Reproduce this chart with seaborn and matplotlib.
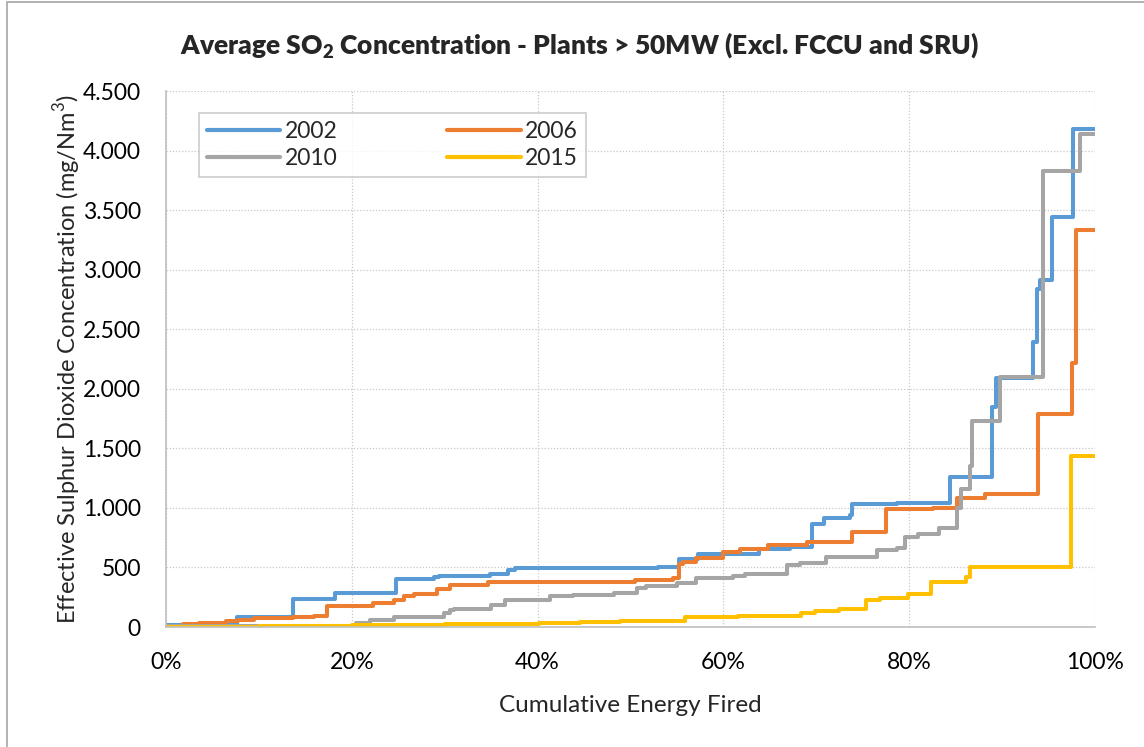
import numpy as np
import pandas as pd
import matplotlib
matplotlib.use("Agg")
import matplotlib.pyplot as plt
import matplotlib.ticker as mticker
from matplotlib.patches import Rectangle
import seaborn as sns

sns.set_style("white")
plt.rcParams["font.family"] = ["Lato", "DejaVu Sans"]
plt.rcParams["mathtext.fontset"] = "custom"
plt.rcParams["mathtext.rm"] = "Lato"
plt.rcParams["mathtext.bf"] = "Lato:heavy"

# Step curves: cumulative energy fired (%) vs SO2 (mg/Nm3)
x_2002 = [0, 7.6, 13.7, 18.2, 24.8, 28.8, 29.4, 34.9, 36.8, 37.6, 53.0, 55.2, 57.3,
          63.8, 67.2, 69.5, 70.8, 73.6, 73.9, 78.7, 84.4, 88.9, 89.4, 93.3, 93.8,
          94.1, 95.4, 97.6, 100]
y_2002 = [15, 86, 237, 286, 400, 420, 429, 443, 480, 494, 500, 571, 614,
          652, 669, 865, 913, 941, 1031, 1039, 1258, 1846, 2093, 2390, 2837,
          2916, 3446, 4181, 4181]

x_2006 = [0, 1.8, 3.6, 6.5, 7.7, 9.5, 13.7, 15.9, 17.3, 22.3, 24.5, 25.6, 26.7,
          29.2, 30.6, 34.7, 50.5, 54.6, 55.2, 55.7, 57.1, 60.0, 61.8, 64.8, 69.0,
          73.8, 77.5, 82.6, 85.1, 88.2, 93.9, 97.5, 98.0, 100]
y_2006 = [8, 23, 34, 51, 63, 77, 86, 94, 180, 200, 229, 257, 280,
          320, 350, 377, 391, 414, 529, 543, 577, 630, 655, 688, 716,
          798, 989, 997, 1082, 1117, 1788, 2220, 3330, 3330]

x_2010 = [0, 20.5, 22.0, 24.5, 29.9, 30.6, 31.0, 35.0, 36.5, 41.3, 43.8, 48.2,
          50.7, 51.7, 55.0, 57.1, 61.0, 62.3, 66.8, 68.2, 71.1, 76.5, 78.7, 79.6,
          81.0, 83.2, 85.1, 85.6, 86.6, 86.8, 89.8, 94.4, 98.4, 100]
y_2010 = [11, 34, 63, 86, 120, 143, 149, 186, 223, 257, 271, 286,
          329, 343, 371, 414, 430, 449, 520, 539, 590, 646, 666, 758,
          780, 830, 1000, 1161, 1352, 1729, 2102, 3828, 4140, 4140]

x_2015 = [0, 10, 20, 30, 36.7, 40.2, 44.6, 48.9, 55.9, 61.6, 68.4, 69.9, 72.4,
          75.4, 76.9, 79.9, 82.3, 86.1, 86.6, 97.4, 100]
y_2015 = [3, 8, 14, 22, 29, 34, 43, 51, 86, 93, 118, 132, 154,
          230, 247, 281, 380, 420, 500, 1440, 1440]

years = ["2002", "2006", "2010", "2015"]
colors = ["#5B9BD5", "#ED7D31", "#A5A5A5", "#FFC000"]

frames = []
for yr, xs, ys in zip(years, [x_2002, x_2006, x_2010, x_2015],
                      [y_2002, y_2006, y_2010, y_2015]):
    frames.append(pd.DataFrame({"Energy": np.array(xs) / 100, "SO2": ys, "Year": yr}))
df = pd.concat(frames, ignore_index=True)

fig = plt.figure(figsize=(11.44, 7.47), dpi=100)
ax = fig.add_axes([0.1451, 0.1606, 0.8120, 0.7175])

sns.lineplot(data=df, x="Energy", y="SO2", hue="Year", hue_order=years,
             palette=colors, estimator=None, drawstyle="steps-post",
             linewidth=2.9, ax=ax)

ax.set_xlim(0, 1)
ax.set_ylim(0, 4500)
ax.xaxis.set_major_locator(mticker.MultipleLocator(0.2))
ax.xaxis.set_major_formatter(mticker.PercentFormatter(1.0, decimals=0))
ax.yaxis.set_major_locator(mticker.MultipleLocator(500))
ax.yaxis.set_major_formatter(mticker.FuncFormatter(lambda v, p: f"{int(v):,}".replace(",", ".")))

ax.grid(True, color="#c8c8c8", linestyle=(0, (1, 1.5)), linewidth=0.9)
for side in ["top", "right"]:
    ax.spines[side].set_visible(False)
for side in ["left", "bottom"]:
    ax.spines[side].set_color("#bfbfbf")
    ax.spines[side].set_linewidth(1.2)
ax.tick_params(axis="both", which="major", labelsize=16.5, length=6,
               width=1.2, color="#bfbfbf", direction="out", labelcolor="black")
ax.tick_params(axis="x", pad=12)
ax.tick_params(axis="y", pad=12)

ax.set_xlabel("Cumulative Energy Fired", fontsize=17.5)
ax.xaxis.set_label_coords(0.5, -0.127)
ax.set_ylabel("Effective Sulphur Dioxide Concentration (mg/Nm$^3$)", fontsize=17)
ax.yaxis.set_label_coords(-0.089, 0.5)
fig.text(0.507, 0.94, r"Average SO$_\mathbf{2}$ Concentration - Plants > 50MW (Excl. FCCU and SRU)",
         ha="center", va="center", fontsize=19, fontweight="heavy")

handles, labels = ax.get_legend_handles_labels()
order = [0, 2, 1, 3]
leg = ax.legend([handles[i] for i in order], [labels[i] for i in order],
                ncol=2, loc="upper left", bbox_to_anchor=(0.035, 0.959),
                fontsize=16.5, frameon=True, fancybox=False, handlelength=3.2,
                columnspacing=4.8, handletextpad=0.2, borderpad=0.35,
                labelspacing=0.25, borderaxespad=0)
leg.get_frame().set_edgecolor("#bfbfbf")
leg.get_frame().set_linewidth(1.2)
for line in leg.get_lines():
    line.set_linewidth(3)

fig.patches.append(Rectangle((7 / 1144, -0.1), 1.2, 1.0 - 2 / 747 + 0.1,
                             transform=fig.transFigure, fill=False,
                             edgecolor="#a6a6a6", linewidth=1.2))

fig.savefig("out.png", dpi=100)
plt.close(fig)
